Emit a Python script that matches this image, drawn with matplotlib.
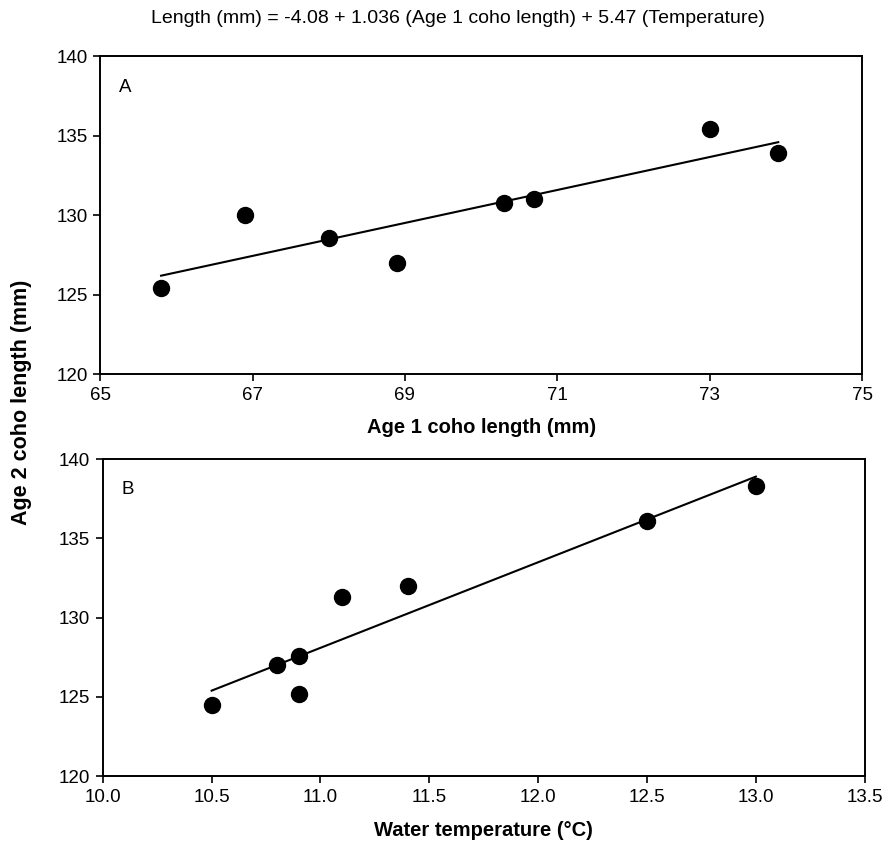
import matplotlib
matplotlib.use('Agg')
import matplotlib.pyplot as plt

plt.rcParams['font.family'] = ['Liberation Sans', 'DejaVu Sans']

# Panel A: age 1 length vs age 2 length
age1_len = [65.8, 66.9, 68.0, 68.9, 70.3, 70.7, 73.0, 73.9]
age2_len_a = [125.4, 130.0, 128.6, 127.0, 130.8, 131.0, 135.4, 133.9]
fit_a_x = [65.8, 73.9]
fit_a_y = [126.2, 134.6]

# Panel B: water temperature vs age 2 length
temp = [10.5, 10.8, 10.9, 10.9, 11.1, 11.4, 12.5, 13.0]
age2_len_b = [124.5, 127.0, 127.6, 125.2, 131.3, 132.0, 136.1, 138.3]
fit_b_x = [10.5, 13.0]
fit_b_y = [125.4, 138.9]

fig = plt.figure(figsize=(8.86, 8.41), dpi=100)
ax1 = fig.add_axes([0.113, 0.555, 0.860, 0.378])
ax2 = fig.add_axes([0.116, 0.077, 0.860, 0.377])

tick_fs = 13.5
lab_fs = 14.5

def style(ax):
    for s in ax.spines.values():
        s.set_linewidth(1.4)
    ax.tick_params(direction='out', length=5, width=1.2, labelsize=tick_fs, pad=4)

ax1.plot(fit_a_x, fit_a_y, color='black', lw=1.5)
ax1.plot(age1_len, age2_len_a, 'o', color='black', markersize=11.5)
ax1.set_xlim(65, 75)
ax1.set_ylim(120, 140)
ax1.set_xticks([65, 67, 69, 71, 73, 75])
ax1.set_yticks([120, 125, 130, 135, 140])
ax1.set_xlabel('Age 1 coho length (mm)', fontsize=lab_fs, fontweight='bold', labelpad=10)
ax1.text(0.025, 0.93, 'A', transform=ax1.transAxes, fontsize=tick_fs, va='top')
style(ax1)

ax2.plot(fit_b_x, fit_b_y, color='black', lw=1.5)
ax2.plot(temp, age2_len_b, 'o', color='black', markersize=11.5)
ax2.set_xlim(10.0, 13.5)
ax2.set_ylim(120, 140)
ax2.set_xticks([10.0, 10.5, 11.0, 11.5, 12.0, 12.5, 13.0, 13.5])
ax2.set_xticklabels(['10.0', '10.5', '11.0', '11.5', '12.0', '12.5', '13.0', '13.5'])
ax2.set_yticks([120, 125, 130, 135, 140])
ax2.set_xlabel('Water temperature (°C)', fontsize=lab_fs, fontweight='bold', labelpad=11)
ax2.text(0.025, 0.93, 'B', transform=ax2.transAxes, fontsize=tick_fs, va='top')
style(ax2)

fig.text(0.024, 0.522, 'Age 2 coho length (mm)', rotation=90, fontsize=15.5,
         fontweight='bold', ha='center', va='center')
fig.text(0.517, 0.978, 'Length (mm) = -4.08 + 1.036 (Age 1 coho length) + 5.47 (Temperature)',
         fontsize=14, ha='center', va='center')

fig.savefig('out.png', dpi=100)
